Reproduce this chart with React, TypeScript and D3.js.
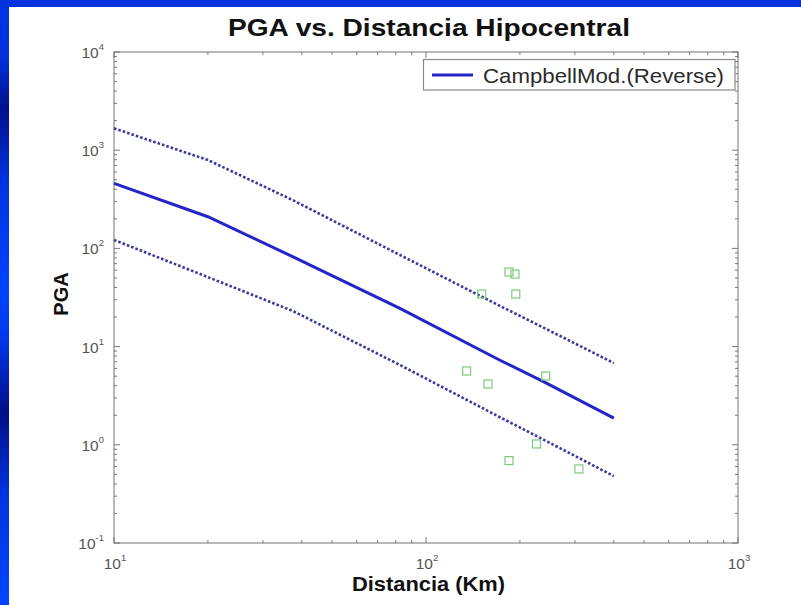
import React from "react";
import * as d3 from "d3";

// ---- data ----
const distance = [10, 20, 37.5, 82.5, 172, 238, 400];
const pgaMedian = [460, 210, 82, 24.5, 7.3, 4.4, 1.87];
const pgaUpper = [1670, 794, 309, 85.7, 26.1, 15.6, 6.8];
const pgaLower = [122, 51, 23, 6.5, 1.92, 1.13, 0.48];

const obsDistance = [184.5, 192.8, 194, 150.8, 135, 158, 242, 226, 184.5, 309];
const obsPga = [57.5, 54.8, 34.3, 34.3, 5.65, 4.16, 5.02, 1.02, 0.69, 0.568];

const xDecades = [10, 100, 1000];
const yDecades = [0.1, 1, 10, 100, 1000, 10000];
const xExp = ["1", "2", "3"];
const yExp = ["-1", "0", "1", "2", "3", "4"];

const titleText = "PGA vs. Distancia Hipocentral";
const xLabel = "Distancia (Km)";
const yLabel = "PGA";
const legendLabel = "CampbellMod.(Reverse)";

const W = 801;
const H = 605;
const L = 114, R = 738, T = 52, B = 543;
const FONT = "'Liberation Sans', Arial, Helvetica, sans-serif";

export default function App() {
  const x = d3.scaleLog().domain([10, 1000]).range([L, R]);
  const y = d3.scaleLog().domain([0.1, 10000]).range([B, T]);

  const line = d3
    .line<number>()
    .x((_, i) => x(distance[i]))
    .y((d) => y(d));

  const minorX: number[] = [];
  for (let i = 0; i < xDecades.length - 1; i++)
    for (let k = 2; k <= 9; k++) minorX.push(xDecades[i] * k);
  const minorY: number[] = [];
  for (let i = 0; i < yDecades.length - 1; i++)
    for (let k = 2; k <= 9; k++) minorY.push(yDecades[i] * k);

  const axisColor = "#8a8a8a";
  const tickColor = "#777";
  const labelColor = "#555";

  return (
    <svg
      width={W}
      height={H}
      style={{ position: "absolute", left: 0, top: 0 }}
      fontFamily={FONT}
    >
      <defs>
        <linearGradient id="side" x1="0" y1="0" x2="0" y2="1">
          <stop offset="0" stopColor="#0036e6" />
          <stop offset="0.1" stopColor="#0030d8" />
          <stop offset="0.18" stopColor="#00108c" />
          <stop offset="0.3" stopColor="#0034e0" />
          <stop offset="0.48" stopColor="#0044ff" />
          <stop offset="0.56" stopColor="#0038ea" />
          <stop offset="0.68" stopColor="#000e88" />
          <stop offset="0.82" stopColor="#0034e0" />
          <stop offset="1" stopColor="#0046ff" />
        </linearGradient>
      </defs>
      <rect x={0} y={0} width={W} height={H} fill="url(#side)" />
      <rect x={0} y={0} width={W} height={7} fill="#0033dd" />
      <rect x={9} y={7} width={W - 9} height={H - 7} fill="#ffffff" />

      {/* plot area */}
      <rect x={L} y={T} width={R - L} height={B - T} fill="#fff" stroke={axisColor} strokeWidth={1.2} />

      {/* ticks */}
      {xDecades.map((v) => (
        <g key={"xM" + v}>
          <line x1={x(v)} x2={x(v)} y1={B} y2={B - 6} stroke={tickColor} />
          <line x1={x(v)} x2={x(v)} y1={T} y2={T + 6} stroke={tickColor} />
        </g>
      ))}
      {minorX.map((v) => (
        <g key={"xm" + v}>
          <line x1={x(v)} x2={x(v)} y1={B} y2={B - 3} stroke={tickColor} />
          <line x1={x(v)} x2={x(v)} y1={T} y2={T + 3} stroke={tickColor} />
        </g>
      ))}
      {yDecades.map((v) => (
        <g key={"yM" + v}>
          <line x1={L} x2={L + 6} y1={y(v)} y2={y(v)} stroke={tickColor} />
          <line x1={R} x2={R - 6} y1={y(v)} y2={y(v)} stroke={tickColor} />
        </g>
      ))}
      {minorY.map((v) => (
        <g key={"ym" + v}>
          <line x1={L} x2={L + 3} y1={y(v)} y2={y(v)} stroke={tickColor} />
          <line x1={R} x2={R - 3} y1={y(v)} y2={y(v)} stroke={tickColor} />
        </g>
      ))}

      {/* tick labels */}
      {yDecades.map((v, i) => (
        <text key={"yl" + v} x={104} y={y(v) + 6} textAnchor="end" fontSize={15.5} fill={labelColor}>
          10
          <tspan fontSize={9.5} dy={-8}>{yExp[i]}</tspan>
        </text>
      ))}
      {xDecades.map((v, i) => (
        <text key={"xl" + v} x={x(v) + 1} y={569} textAnchor="middle" fontSize={15.5} fill={labelColor}>
          10
          <tspan fontSize={9.5} dy={-8}>{xExp[i]}</tspan>
        </text>
      ))}

      {/* curves */}
      <path d={line(pgaUpper) || ""} fill="none" stroke="#3a3a9c" strokeWidth={2.6} strokeDasharray="2.6 2" />
      <path d={line(pgaLower) || ""} fill="none" stroke="#3a3a9c" strokeWidth={2.6} strokeDasharray="2.6 2" />
      <path d={line(pgaMedian) || ""} fill="none" stroke="#2424c8" strokeWidth={3} />

      {/* observations */}
      {obsDistance.map((dv, i) => (
        <rect
          key={"o" + i}
          x={x(dv) - 4}
          y={y(obsPga[i]) - 4}
          width={8}
          height={8}
          fill="none"
          stroke="#7acc7a"
          strokeWidth={1.2}
        />
      ))}

      {/* legend */}
      <rect x={423.5} y={59.5} width={311.5} height={30.5} fill="#fff" stroke={axisColor} strokeWidth={1.2} />
      <line x1={432} x2={473} y1={75} y2={75} stroke="#2424c8" strokeWidth={3} />
      <text x={483} y={83} fontSize={21} fill="#2a2a2a" textLength={241} lengthAdjust="spacingAndGlyphs">
        {legendLabel}
      </text>

      {/* titles */}
      <text x={228} y={36} fontSize={24} fontWeight="bold" fill="#111" textLength={402} lengthAdjust="spacingAndGlyphs">
        {titleText}
      </text>
      <text x={352} y={591} fontSize={19.5} fontWeight="bold" fill="#111" textLength={153} lengthAdjust="spacingAndGlyphs">
        {xLabel}
      </text>
      <text
        transform={`translate(68, 294) rotate(-90)`}
        textAnchor="middle"
        fontSize={20}
        fontWeight="bold"
        fill="#111"
      >
        {yLabel}
      </text>
    </svg>
  );
}
